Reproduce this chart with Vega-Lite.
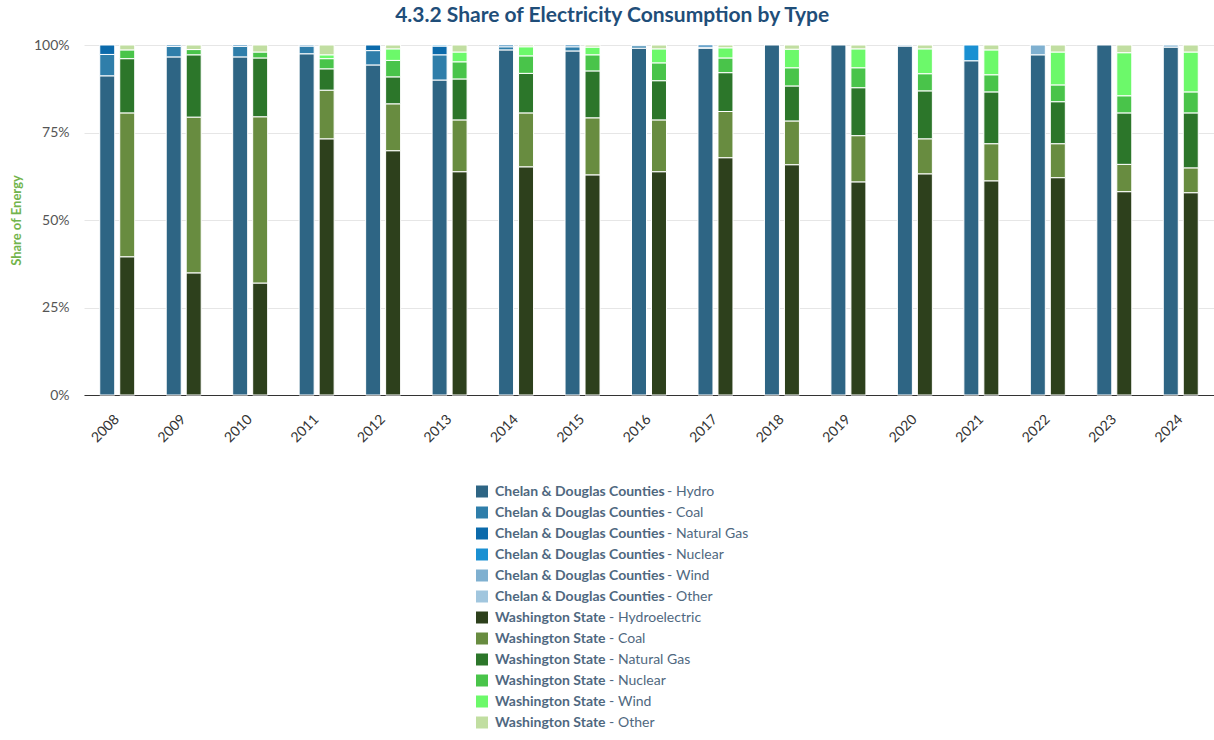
{
  "$schema": "https://vega.github.io/schema/vega-lite/v6.json",
  "padding": {"left": 10, "right": 0, "top": 5, "bottom": 0},
  "title": {
    "text": "4.3.2 Share of Electricity Consumption by Type",
    "anchor": "middle",
    "font": "Lato",
    "fontSize": 21,
    "fontWeight": "bold",
    "color": "#1f4e79",
    "offset": 12
  },
  "datasets": {
    "energy": [
      {"year": "2008", "region": "Chelan & Douglas Counties", "type": "Hydro", "value": 91.2},
      {"year": "2008", "region": "Chelan & Douglas Counties", "type": "Coal", "value": 6.1},
      {"year": "2008", "region": "Chelan & Douglas Counties", "type": "Natural Gas", "value": 2.7},
      {"year": "2009", "region": "Chelan & Douglas Counties", "type": "Hydro", "value": 96.6},
      {"year": "2009", "region": "Chelan & Douglas Counties", "type": "Coal", "value": 3.0},
      {"year": "2009", "region": "Chelan & Douglas Counties", "type": "Natural Gas", "value": 0.4},
      {"year": "2010", "region": "Chelan & Douglas Counties", "type": "Hydro", "value": 96.6},
      {"year": "2010", "region": "Chelan & Douglas Counties", "type": "Coal", "value": 3.0},
      {"year": "2010", "region": "Chelan & Douglas Counties", "type": "Natural Gas", "value": 0.4},
      {"year": "2011", "region": "Chelan & Douglas Counties", "type": "Hydro", "value": 97.5},
      {"year": "2011", "region": "Chelan & Douglas Counties", "type": "Coal", "value": 2.2},
      {"year": "2011", "region": "Chelan & Douglas Counties", "type": "Natural Gas", "value": 0.3},
      {"year": "2012", "region": "Chelan & Douglas Counties", "type": "Hydro", "value": 94.3},
      {"year": "2012", "region": "Chelan & Douglas Counties", "type": "Coal", "value": 4.1},
      {"year": "2012", "region": "Chelan & Douglas Counties", "type": "Natural Gas", "value": 1.6},
      {"year": "2013", "region": "Chelan & Douglas Counties", "type": "Hydro", "value": 90.0},
      {"year": "2013", "region": "Chelan & Douglas Counties", "type": "Coal", "value": 7.2},
      {"year": "2013", "region": "Chelan & Douglas Counties", "type": "Natural Gas", "value": 2.5},
      {"year": "2013", "region": "Chelan & Douglas Counties", "type": "Nuclear", "value": 0.3},
      {"year": "2014", "region": "Chelan & Douglas Counties", "type": "Hydro", "value": 98.6},
      {"year": "2014", "region": "Chelan & Douglas Counties", "type": "Coal", "value": 0.9},
      {"year": "2014", "region": "Chelan & Douglas Counties", "type": "Natural Gas", "value": 0.5},
      {"year": "2015", "region": "Chelan & Douglas Counties", "type": "Hydro", "value": 98.3},
      {"year": "2015", "region": "Chelan & Douglas Counties", "type": "Coal", "value": 1.2},
      {"year": "2015", "region": "Chelan & Douglas Counties", "type": "Natural Gas", "value": 0.5},
      {"year": "2016", "region": "Chelan & Douglas Counties", "type": "Hydro", "value": 99.1},
      {"year": "2016", "region": "Chelan & Douglas Counties", "type": "Coal", "value": 0.7},
      {"year": "2016", "region": "Chelan & Douglas Counties", "type": "Natural Gas", "value": 0.2},
      {"year": "2017", "region": "Chelan & Douglas Counties", "type": "Hydro", "value": 99.1},
      {"year": "2017", "region": "Chelan & Douglas Counties", "type": "Coal", "value": 0.3},
      {"year": "2017", "region": "Chelan & Douglas Counties", "type": "Natural Gas", "value": 0.6},
      {"year": "2018", "region": "Chelan & Douglas Counties", "type": "Hydro", "value": 100},
      {"year": "2019", "region": "Chelan & Douglas Counties", "type": "Hydro", "value": 100},
      {"year": "2020", "region": "Chelan & Douglas Counties", "type": "Hydro", "value": 99.7},
      {"year": "2020", "region": "Chelan & Douglas Counties", "type": "Wind", "value": 0.3},
      {"year": "2021", "region": "Chelan & Douglas Counties", "type": "Hydro", "value": 95.5},
      {"year": "2021", "region": "Chelan & Douglas Counties", "type": "Nuclear", "value": 4.5},
      {"year": "2022", "region": "Chelan & Douglas Counties", "type": "Hydro", "value": 97.2},
      {"year": "2022", "region": "Chelan & Douglas Counties", "type": "Wind", "value": 2.8},
      {"year": "2023", "region": "Chelan & Douglas Counties", "type": "Hydro", "value": 100},
      {"year": "2024", "region": "Chelan & Douglas Counties", "type": "Hydro", "value": 99.4},
      {"year": "2024", "region": "Chelan & Douglas Counties", "type": "Wind", "value": 0.6},

      {"year": "2008", "region": "Washington State", "type": "Hydroelectric", "value": 39.5},
      {"year": "2008", "region": "Washington State", "type": "Coal", "value": 41.1},
      {"year": "2008", "region": "Washington State", "type": "Natural Gas", "value": 15.5},
      {"year": "2008", "region": "Washington State", "type": "Nuclear", "value": 2.5},
      {"year": "2008", "region": "Washington State", "type": "Other", "value": 1.4},
      {"year": "2009", "region": "Washington State", "type": "Hydroelectric", "value": 34.9},
      {"year": "2009", "region": "Washington State", "type": "Coal", "value": 44.5},
      {"year": "2009", "region": "Washington State", "type": "Natural Gas", "value": 17.8},
      {"year": "2009", "region": "Washington State", "type": "Nuclear", "value": 1.5},
      {"year": "2009", "region": "Washington State", "type": "Other", "value": 1.3},
      {"year": "2010", "region": "Washington State", "type": "Hydroelectric", "value": 32.0},
      {"year": "2010", "region": "Washington State", "type": "Coal", "value": 47.5},
      {"year": "2010", "region": "Washington State", "type": "Natural Gas", "value": 16.8},
      {"year": "2010", "region": "Washington State", "type": "Nuclear", "value": 1.7},
      {"year": "2010", "region": "Washington State", "type": "Other", "value": 2.0},
      {"year": "2011", "region": "Washington State", "type": "Hydroelectric", "value": 73.2},
      {"year": "2011", "region": "Washington State", "type": "Coal", "value": 13.9},
      {"year": "2011", "region": "Washington State", "type": "Natural Gas", "value": 6.1},
      {"year": "2011", "region": "Washington State", "type": "Nuclear", "value": 2.9},
      {"year": "2011", "region": "Washington State", "type": "Wind", "value": 1.1},
      {"year": "2011", "region": "Washington State", "type": "Other", "value": 2.8},
      {"year": "2012", "region": "Washington State", "type": "Hydroelectric", "value": 69.8},
      {"year": "2012", "region": "Washington State", "type": "Coal", "value": 13.4},
      {"year": "2012", "region": "Washington State", "type": "Natural Gas", "value": 7.7},
      {"year": "2012", "region": "Washington State", "type": "Nuclear", "value": 4.7},
      {"year": "2012", "region": "Washington State", "type": "Wind", "value": 3.3},
      {"year": "2012", "region": "Washington State", "type": "Other", "value": 1.1},
      {"year": "2013", "region": "Washington State", "type": "Hydroelectric", "value": 63.8},
      {"year": "2013", "region": "Washington State", "type": "Coal", "value": 14.8},
      {"year": "2013", "region": "Washington State", "type": "Natural Gas", "value": 11.7},
      {"year": "2013", "region": "Washington State", "type": "Nuclear", "value": 4.9},
      {"year": "2013", "region": "Washington State", "type": "Wind", "value": 2.8},
      {"year": "2013", "region": "Washington State", "type": "Other", "value": 2.0},
      {"year": "2014", "region": "Washington State", "type": "Hydroelectric", "value": 65.2},
      {"year": "2014", "region": "Washington State", "type": "Coal", "value": 15.4},
      {"year": "2014", "region": "Washington State", "type": "Natural Gas", "value": 11.3},
      {"year": "2014", "region": "Washington State", "type": "Nuclear", "value": 5.0},
      {"year": "2014", "region": "Washington State", "type": "Wind", "value": 2.6},
      {"year": "2014", "region": "Washington State", "type": "Other", "value": 0.5},
      {"year": "2015", "region": "Washington State", "type": "Hydroelectric", "value": 62.9},
      {"year": "2015", "region": "Washington State", "type": "Coal", "value": 16.3},
      {"year": "2015", "region": "Washington State", "type": "Natural Gas", "value": 13.4},
      {"year": "2015", "region": "Washington State", "type": "Nuclear", "value": 4.6},
      {"year": "2015", "region": "Washington State", "type": "Wind", "value": 2.2},
      {"year": "2015", "region": "Washington State", "type": "Other", "value": 0.6},
      {"year": "2016", "region": "Washington State", "type": "Hydroelectric", "value": 63.8},
      {"year": "2016", "region": "Washington State", "type": "Coal", "value": 14.8},
      {"year": "2016", "region": "Washington State", "type": "Natural Gas", "value": 11.2},
      {"year": "2016", "region": "Washington State", "type": "Nuclear", "value": 5.1},
      {"year": "2016", "region": "Washington State", "type": "Wind", "value": 4.0},
      {"year": "2016", "region": "Washington State", "type": "Other", "value": 1.1},
      {"year": "2017", "region": "Washington State", "type": "Hydroelectric", "value": 67.8},
      {"year": "2017", "region": "Washington State", "type": "Coal", "value": 13.2},
      {"year": "2017", "region": "Washington State", "type": "Natural Gas", "value": 11.1},
      {"year": "2017", "region": "Washington State", "type": "Nuclear", "value": 4.2},
      {"year": "2017", "region": "Washington State", "type": "Wind", "value": 2.9},
      {"year": "2017", "region": "Washington State", "type": "Other", "value": 0.8},
      {"year": "2018", "region": "Washington State", "type": "Hydroelectric", "value": 65.8},
      {"year": "2018", "region": "Washington State", "type": "Coal", "value": 12.5},
      {"year": "2018", "region": "Washington State", "type": "Natural Gas", "value": 10.0},
      {"year": "2018", "region": "Washington State", "type": "Nuclear", "value": 5.2},
      {"year": "2018", "region": "Washington State", "type": "Wind", "value": 5.3},
      {"year": "2018", "region": "Washington State", "type": "Other", "value": 1.2},
      {"year": "2019", "region": "Washington State", "type": "Hydroelectric", "value": 60.9},
      {"year": "2019", "region": "Washington State", "type": "Coal", "value": 13.2},
      {"year": "2019", "region": "Washington State", "type": "Natural Gas", "value": 13.7},
      {"year": "2019", "region": "Washington State", "type": "Nuclear", "value": 5.7},
      {"year": "2019", "region": "Washington State", "type": "Wind", "value": 5.4},
      {"year": "2019", "region": "Washington State", "type": "Other", "value": 1.1},
      {"year": "2020", "region": "Washington State", "type": "Hydroelectric", "value": 63.2},
      {"year": "2020", "region": "Washington State", "type": "Coal", "value": 10.0},
      {"year": "2020", "region": "Washington State", "type": "Natural Gas", "value": 13.7},
      {"year": "2020", "region": "Washington State", "type": "Nuclear", "value": 4.9},
      {"year": "2020", "region": "Washington State", "type": "Wind", "value": 7.1},
      {"year": "2020", "region": "Washington State", "type": "Other", "value": 1.1},
      {"year": "2021", "region": "Washington State", "type": "Hydroelectric", "value": 61.2},
      {"year": "2021", "region": "Washington State", "type": "Coal", "value": 10.6},
      {"year": "2021", "region": "Washington State", "type": "Natural Gas", "value": 14.8},
      {"year": "2021", "region": "Washington State", "type": "Nuclear", "value": 4.9},
      {"year": "2021", "region": "Washington State", "type": "Wind", "value": 7.1},
      {"year": "2021", "region": "Washington State", "type": "Other", "value": 1.4},
      {"year": "2022", "region": "Washington State", "type": "Hydroelectric", "value": 62.1},
      {"year": "2022", "region": "Washington State", "type": "Coal", "value": 9.7},
      {"year": "2022", "region": "Washington State", "type": "Natural Gas", "value": 12.0},
      {"year": "2022", "region": "Washington State", "type": "Nuclear", "value": 4.8},
      {"year": "2022", "region": "Washington State", "type": "Wind", "value": 9.4},
      {"year": "2022", "region": "Washington State", "type": "Other", "value": 2.0},
      {"year": "2023", "region": "Washington State", "type": "Hydroelectric", "value": 58.1},
      {"year": "2023", "region": "Washington State", "type": "Coal", "value": 7.8},
      {"year": "2023", "region": "Washington State", "type": "Natural Gas", "value": 14.7},
      {"year": "2023", "region": "Washington State", "type": "Nuclear", "value": 4.9},
      {"year": "2023", "region": "Washington State", "type": "Wind", "value": 12.3},
      {"year": "2023", "region": "Washington State", "type": "Other", "value": 2.2},
      {"year": "2024", "region": "Washington State", "type": "Hydroelectric", "value": 57.8},
      {"year": "2024", "region": "Washington State", "type": "Coal", "value": 7.1},
      {"year": "2024", "region": "Washington State", "type": "Natural Gas", "value": 15.7},
      {"year": "2024", "region": "Washington State", "type": "Nuclear", "value": 6.0},
      {"year": "2024", "region": "Washington State", "type": "Wind", "value": 11.4},
      {"year": "2024", "region": "Washington State", "type": "Other", "value": 2.0}
    ],
    "legend": [
      {"region": "Chelan & Douglas Counties", "type": "Hydro"},
      {"region": "Chelan & Douglas Counties", "type": "Coal"},
      {"region": "Chelan & Douglas Counties", "type": "Natural Gas"},
      {"region": "Chelan & Douglas Counties", "type": "Nuclear"},
      {"region": "Chelan & Douglas Counties", "type": "Wind"},
      {"region": "Chelan & Douglas Counties", "type": "Other"},
      {"region": "Washington State", "type": "Hydroelectric"},
      {"region": "Washington State", "type": "Coal"},
      {"region": "Washington State", "type": "Natural Gas"},
      {"region": "Washington State", "type": "Nuclear"},
      {"region": "Washington State", "type": "Wind"},
      {"region": "Washington State", "type": "Other"}
    ]
  },
  "vconcat": [
    {
      "width": 1130,
      "height": 350,
      "data": {"name": "energy"},
      "transform": [
        {"calculate": "datum.region + ' - ' + datum.type", "as": "series"},
        {"calculate": "indexof(['Chelan & Douglas Counties - Hydro','Chelan & Douglas Counties - Coal','Chelan & Douglas Counties - Natural Gas','Chelan & Douglas Counties - Nuclear','Chelan & Douglas Counties - Wind','Chelan & Douglas Counties - Other','Washington State - Hydroelectric','Washington State - Coal','Washington State - Natural Gas','Washington State - Nuclear','Washington State - Wind','Washington State - Other'], datum.series)", "as": "ord"}
      ],
      "mark": {"type": "bar", "stroke": "white", "strokeWidth": 1},
      "encoding": {
        "x": {
          "field": "year",
          "type": "ordinal",
          "title": null,
          "scale": {"paddingInner": 0, "paddingOuter": 0},
          "axis": {
            "labelAngle": -45,
            "labelAlign": "right",
            "labelBaseline": "middle",
            "labelFont": "Lato",
            "labelFontSize": 14,
            "labelColor": "#333333",
            "labelPadding": 22,
            "ticks": false,
            "domainColor": "#333333",
            "grid": false
          }
        },
        "xOffset": {
          "field": "region",
          "type": "nominal",
          "sort": ["Chelan & Douglas Counties", "Washington State"],
          "scale": {"paddingInner": 0.25, "paddingOuter": 0.7875}
        },
        "y": {
          "field": "value",
          "type": "quantitative",
          "stack": "zero",
          "scale": {"domain": [0, 100], "nice": false},
          "axis": {
            "title": "Share of Energy",
            "titleFont": "Lato",
            "titleFontSize": 13,
            "titleFontWeight": "bold",
            "titleColor": "#72b44c",
            "titlePadding": 10,
            "values": [0, 25, 50, 75, 100],
            "labelExpr": "datum.value + '%'",
            "labelFont": "Lato",
            "labelFontSize": 14,
            "labelColor": "#555555",
            "labelPadding": 15,
            "ticks": false,
            "domain": false,
            "gridColor": "#e6e6e6"
          }
        },
        "color": {
          "field": "series",
          "type": "nominal",
          "legend": null,
          "scale": {
            "domain": [
              "Chelan & Douglas Counties - Hydro",
              "Chelan & Douglas Counties - Coal",
              "Chelan & Douglas Counties - Natural Gas",
              "Chelan & Douglas Counties - Nuclear",
              "Chelan & Douglas Counties - Wind",
              "Chelan & Douglas Counties - Other",
              "Washington State - Hydroelectric",
              "Washington State - Coal",
              "Washington State - Natural Gas",
              "Washington State - Nuclear",
              "Washington State - Wind",
              "Washington State - Other"
            ],
            "range": [
              "#2e6584", "#2f7eaa", "#0b6aab", "#1a90d2", "#7fb0d0", "#a1c6de",
              "#2d401c", "#688c40", "#2c762a", "#49c44a", "#6cf96a", "#c1dea1"
            ]
          }
        },
        "order": {"field": "ord", "type": "quantitative"},
        "tooltip": [
          {"field": "year", "type": "ordinal", "title": "Year"},
          {"field": "series", "type": "nominal", "title": "Series"},
          {"field": "value", "type": "quantitative", "title": "Share (%)"}
        ]
      }
    },
    {
      "width": 346,
      "height": {"step": 21},
      "data": {"name": "legend"},
      "transform": [
        {"calculate": "datum.region + ' - ' + datum.type", "as": "series"},
        {"calculate": "indexof(['Chelan & Douglas Counties - Hydro','Chelan & Douglas Counties - Coal','Chelan & Douglas Counties - Natural Gas','Chelan & Douglas Counties - Nuclear','Chelan & Douglas Counties - Wind','Chelan & Douglas Counties - Other','Washington State - Hydroelectric','Washington State - Coal','Washington State - Natural Gas','Washington State - Nuclear','Washington State - Wind','Washington State - Other'], datum.series)", "as": "ord"}
      ],
      "encoding": {
        "y": {
          "field": "series",
          "type": "ordinal",
          "sort": {"field": "ord", "op": "min"},
          "axis": null
        }
      },
      "layer": [
        {
          "mark": {"type": "square", "filled": true, "opacity": 1, "size": 144, "x": 6},
          "encoding": {
            "color": {
              "field": "series",
              "type": "nominal",
              "legend": null,
              "scale": {
                "domain": [
                  "Chelan & Douglas Counties - Hydro",
                  "Chelan & Douglas Counties - Coal",
                  "Chelan & Douglas Counties - Natural Gas",
                  "Chelan & Douglas Counties - Nuclear",
                  "Chelan & Douglas Counties - Wind",
                  "Chelan & Douglas Counties - Other",
                  "Washington State - Hydroelectric",
                  "Washington State - Coal",
                  "Washington State - Natural Gas",
                  "Washington State - Nuclear",
                  "Washington State - Wind",
                  "Washington State - Other"
                ],
                "range": [
                  "#2e6584", "#2f7eaa", "#0b6aab", "#1a90d2", "#7fb0d0", "#a1c6de",
                  "#2d401c", "#688c40", "#2c762a", "#49c44a", "#6cf96a", "#c1dea1"
                ]
              }
            }
          }
        },
        {
          "mark": {"type": "text", "align": "left", "baseline": "middle", "x": 19, "font": "Lato", "fontSize": 14, "fontWeight": "bold", "color": "#4f6880"},
          "encoding": {"text": {"field": "region"}}
        },
        {
          "transform": [{"filter": "datum.region == 'Chelan & Douglas Counties'"}],
          "mark": {"type": "text", "align": "left", "baseline": "middle", "x": 200, "font": "Lato", "fontSize": 14, "color": "#4f6880"},
          "encoding": {"text": {"field": "type"}}
        },
        {
          "transform": [{"filter": "datum.region == 'Washington State'"}],
          "mark": {"type": "text", "align": "left", "baseline": "middle", "x": 142, "font": "Lato", "fontSize": 14, "color": "#4f6880"},
          "encoding": {"text": {"field": "type"}}
        },
        {
          "transform": [{"filter": "datum.region == 'Chelan & Douglas Counties'"}],
          "mark": {"type": "text", "align": "left", "baseline": "middle", "x": 191, "font": "Lato", "fontSize": 14, "color": "#4f6880", "text": "-"},
          "encoding": {}
        },
        {
          "transform": [{"filter": "datum.region == 'Washington State'"}],
          "mark": {"type": "text", "align": "left", "baseline": "middle", "x": 133, "font": "Lato", "fontSize": 14, "color": "#4f6880", "text": "-"},
          "encoding": {}
        }
      ],
      "resolve": {"scale": {"color": "independent"}}
    }
  ],
  "spacing": 36,
  "center": true,
  "config": {
    "view": {"stroke": null},
    "font": "Lato"
  }
}
